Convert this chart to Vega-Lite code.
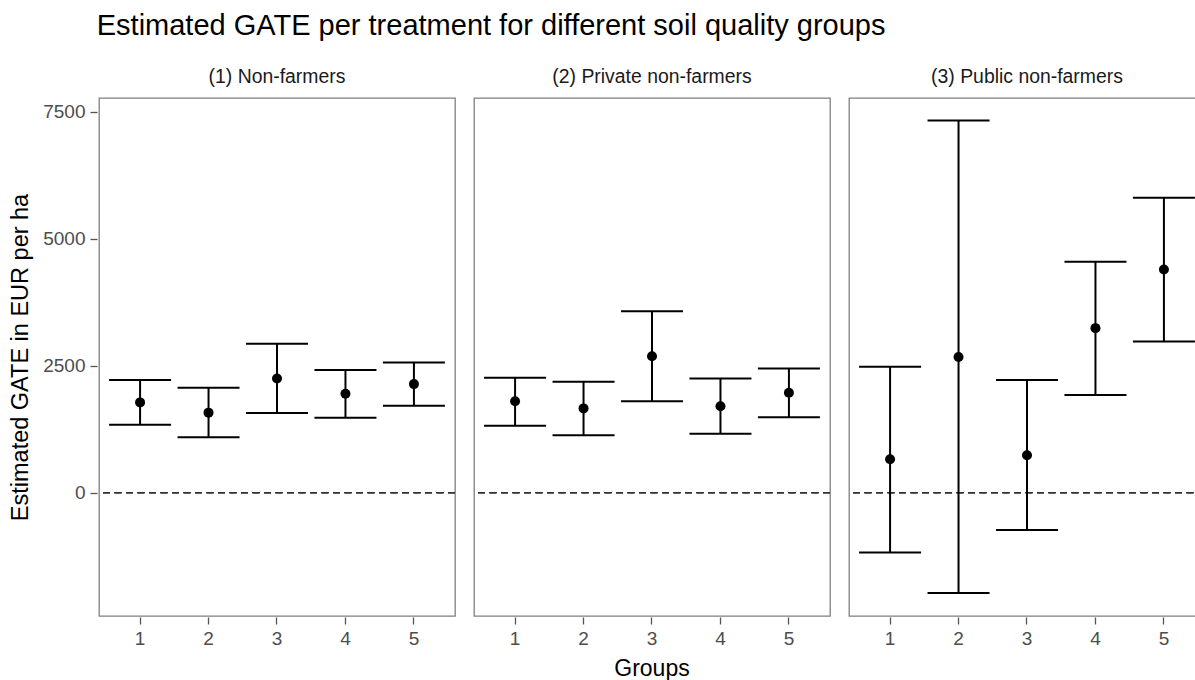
{
  "$schema": "https://vega.github.io/schema/vega-lite/v6.json",
  "background": "white",
  "padding": {"left": 8, "top": 11, "right": 0, "bottom": 4},
  "title": {
    "text": "Estimated GATE per treatment for different soil quality groups",
    "anchor": "start",
    "fontSize": 29,
    "fontWeight": "normal",
    "font": "Liberation Sans",
    "color": "black",
    "dx": 88,
    "offset": 26
  },
  "data": {
    "values": [
      {"panel": "(1) Non-farmers", "group": "1", "estimate": 1776, "lower": 1338, "upper": 2215},
      {"panel": "(1) Non-farmers", "group": "2", "estimate": 1574, "lower": 1088, "upper": 2065},
      {"panel": "(1) Non-farmers", "group": "3", "estimate": 2248, "lower": 1566, "upper": 2931},
      {"panel": "(1) Non-farmers", "group": "4", "estimate": 1947, "lower": 1475, "upper": 2412},
      {"panel": "(1) Non-farmers", "group": "5", "estimate": 2136, "lower": 1711, "upper": 2563},
      {"panel": "(2) Private non-farmers", "group": "1", "estimate": 1798, "lower": 1316, "upper": 2262},
      {"panel": "(2) Private non-farmers", "group": "2", "estimate": 1658, "lower": 1127, "upper": 2183},
      {"panel": "(2) Private non-farmers", "group": "3", "estimate": 2685, "lower": 1798, "upper": 3572},
      {"panel": "(2) Private non-farmers", "group": "4", "estimate": 1701, "lower": 1157, "upper": 2248},
      {"panel": "(2) Private non-farmers", "group": "5", "estimate": 1965, "lower": 1485, "upper": 2445},
      {"panel": "(3) Public non-farmers", "group": "1", "estimate": 655, "lower": -1178, "upper": 2480},
      {"panel": "(3) Public non-farmers", "group": "2", "estimate": 2669, "lower": -1979, "upper": 7327},
      {"panel": "(3) Public non-farmers", "group": "3", "estimate": 734, "lower": -736, "upper": 2219},
      {"panel": "(3) Public non-farmers", "group": "4", "estimate": 3238, "lower": 1920, "upper": 4548},
      {"panel": "(3) Public non-farmers", "group": "5", "estimate": 4394, "lower": 2976, "upper": 5807}
    ]
  },
  "facet": {
    "column": {
      "field": "panel",
      "type": "nominal",
      "title": "Groups",
      "header": {
        "titleOrient": "bottom",
        "titleFontSize": 23,
        "titleFont": "Liberation Sans",
        "titleFontWeight": "normal",
        "titleColor": "black",
        "titlePadding": 0,
        "labelOrient": "top",
        "labelFontSize": 19.4,
        "labelFont": "Liberation Sans",
        "labelColor": "#1a1a1a",
        "labelPadding": 10
      }
    }
  },
  "spacing": 15,
  "spec": {
    "width": 356,
    "height": 518,
    "encoding": {
      "x": {
        "field": "group",
        "type": "ordinal",
        "scale": {"type": "band", "paddingInner": 0.1, "paddingOuter": 0.15},
        "axis": {"title": null, "labelAngle": 0}
      }
    },
    "layer": [
      {
        "mark": {"type": "rule", "strokeDash": [7, 4.5], "color": "#333333", "strokeWidth": 1.2},
        "encoding": {
          "x": null,
          "y": {"datum": 0, "type": "quantitative"}
        }
      },
      {
        "mark": {"type": "rule", "color": "black", "strokeWidth": 2},
        "encoding": {
          "y": {
            "field": "lower",
            "type": "quantitative",
            "scale": {"domain": [-2430, 7770], "nice": false, "zero": false},
            "axis": {"title": "Estimated GATE in EUR per ha", "values": [0, 2500, 5000, 7500], "format": "d"}
          },
          "y2": {"field": "upper"}
        }
      },
      {
        "mark": {"type": "tick", "orient": "horizontal", "color": "black", "thickness": 2, "size": 62, "opacity": 1},
        "encoding": {"y": {"field": "upper", "type": "quantitative"}}
      },
      {
        "mark": {"type": "tick", "orient": "horizontal", "color": "black", "thickness": 2, "size": 62, "opacity": 1},
        "encoding": {"y": {"field": "lower", "type": "quantitative"}}
      },
      {
        "mark": {"type": "point", "filled": true, "color": "black", "size": 100, "opacity": 1},
        "encoding": {"y": {"field": "estimate", "type": "quantitative"}}
      }
    ]
  },
  "config": {
    "font": "Liberation Sans",
    "view": {"stroke": "#7f7f7f", "strokeWidth": 1.3},
    "axis": {
      "grid": false,
      "domain": false,
      "tickColor": "#555555",
      "tickSize": 7,
      "tickWidth": 1.3,
      "labelColor": "#4d4d4d",
      "labelFontSize": 19,
      "labelPadding": 5,
      "titleFontSize": 23.5,
      "titleFontWeight": "normal",
      "titleColor": "black",
      "titlePadding": 10
    }
  }
}
